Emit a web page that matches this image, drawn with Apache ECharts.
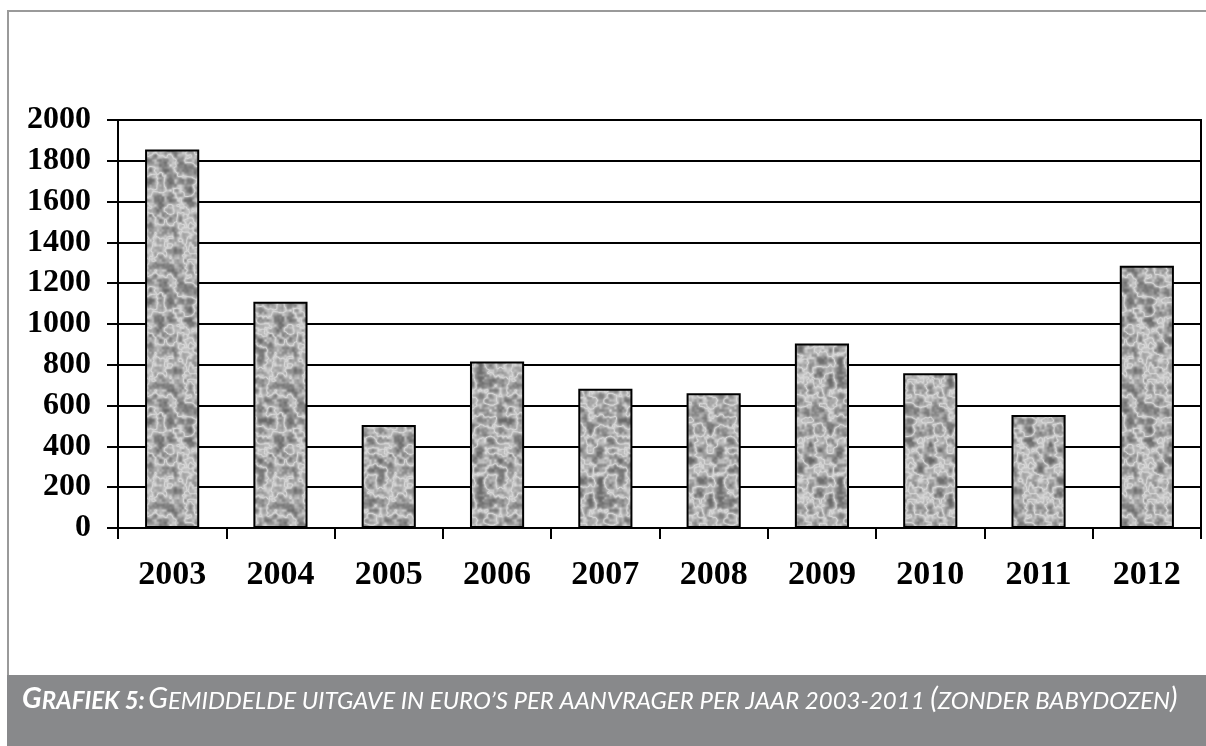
<!DOCTYPE html>
<html>
<head>
<meta charset="utf-8">
<style>
html,body{margin:0;padding:0;background:#fff;}
#chart{width:1206px;height:746px;}
</style>
<script src="https://cdn.jsdelivr.net/npm/echarts@6/dist/echarts.min.js"></script>
</head>
<body>
<div id="chart"></div>
<script>
// ---- data ----
var years = ['2003','2004','2005','2006','2007','2008','2009','2010','2011','2012'];
var values = [1856, 1109, 505, 816, 682, 660, 904, 759, 554, 1286];
var yTicks = [0, 200, 400, 600, 800, 1000, 1200, 1400, 1600, 1800, 2000];

// ---- granite-like texture (deterministic hash noise) ----
function makeTexture() {
  var S = 120, c = document.createElement('canvas');
  c.width = S; c.height = S;
  var ctx = c.getContext('2d');
  var img = ctx.createImageData(S, S);
  function h(x, y) {
    var s = Math.sin(x * 12.9898 + y * 78.233) * 43758.5453;
    return s - Math.floor(s);
  }
  function vn(x, y, f) {
    var P = S / f;
    var gx = x / f, gy = y / f;
    var x0 = Math.floor(gx), y0 = Math.floor(gy);
    var tx = gx - x0, ty = gy - y0;
    tx = tx * tx * (3 - 2 * tx); ty = ty * ty * (3 - 2 * ty);
    var a = h(x0 % P, y0 % P), b = h((x0 + 1) % P, y0 % P);
    var cc = h(x0 % P, (y0 + 1) % P), d = h((x0 + 1) % P, (y0 + 1) % P);
    return (a * (1 - tx) + b * tx) * (1 - ty) + (cc * (1 - tx) + d * tx) * ty;
  }
  for (var y = 0; y < S; y++) {
    for (var x = 0; x < S; x++) {
      var v = 0.55 * vn(x, y, 10) + 0.3 * vn(x, y, 5) + 0.15 * vn(x, y, 2.5);
      var r = 1 - Math.abs(v - 0.5) * 2;     // ridges -> light veins
      var g = Math.round(100 + r * r * 115);
      if (g > 225) g = 225;
      var i = (y * S + x) * 4;
      img.data[i] = g; img.data[i + 1] = g; img.data[i + 2] = g; img.data[i + 3] = 255;
    }
  }
  ctx.putImageData(img, 0, 0);
  return c;
}

var chart = echarts.init(document.getElementById('chart'), null, {renderer: 'canvas'});
var serif = '"Liberation Serif", "Times New Roman", serif';
var capFont = 'Lato, "Open Sans", sans-serif';

chart.setOption({
  animation: false,
  backgroundColor: '#ffffff',
  grid: {
    left: 118, right: 5, top: 120, bottom: 218,
    show: true, borderColor: '#000', borderWidth: 2, backgroundColor: 'transparent'
  },
  xAxis: {
    type: 'category',
    data: years,
    axisLine: {lineStyle: {color: '#000', width: 2}},
    axisTick: {show: true, length: 11, alignWithLabel: false, lineStyle: {color: '#000', width: 2}},
    axisLabel: {color: '#000', fontFamily: serif, fontWeight: 'bold', fontSize: 34, margin: 30}
  },
  yAxis: {
    type: 'value',
    min: yTicks[0], max: yTicks[yTicks.length - 1], interval: yTicks[1] - yTicks[0],
    axisLine: {show: true, lineStyle: {color: '#000', width: 2}},
    axisTick: {show: true, length: 11, lineStyle: {color: '#000', width: 2}},
    splitLine: {show: true, lineStyle: {color: '#000', width: 2}},
    axisLabel: {color: '#000', fontFamily: serif, fontWeight: 'bold', fontSize: 32, margin: 27,
                formatter: function (v) { return String(v); }}
  },
  series: [{
    type: 'bar',
    data: values,
    barWidth: '50%',
    itemStyle: {
      color: {image: makeTexture(), repeat: 'repeat'},
      borderColor: '#000',
      borderWidth: 2
    }
  }],
  graphic: [
    {type: 'rect', z: -1, shape: {x: 8, y: 11, width: 1210, height: 670},
     style: {fill: 'none', stroke: '#9a9a9a', lineWidth: 2}},
    {type: 'rect', z: 10, shape: {x: 7, y: 675, width: 1199, height: 71},
     style: {fill: '#88898b'}},
    {type: 'text', z: 11, left: 22, top: 684,
     style: {
       text: '{B|G}{b|RAFIEK 5:} {C|G}{c|EMIDDELDE UITGAVE IN EURO’S PER AANVRAGER PER JAAR 2003-2011 }{C|(}{c|ZONDER BABYDOZEN}{C|)}',
       rich: {
         B: {fontFamily: capFont, fontStyle: 'italic', fontWeight: 'bold', fontSize: 29, fill: '#fff', verticalAlign: 'bottom'},
         b: {fontFamily: capFont, fontStyle: 'italic', fontWeight: 'bold', fontSize: 24, fill: '#fff', verticalAlign: 'bottom'},
         C: {fontFamily: capFont, fontStyle: 'italic', fontSize: 29, fill: '#fff', verticalAlign: 'bottom'},
         c: {fontFamily: capFont, fontStyle: 'italic', fontSize: 24, fill: '#fff', verticalAlign: 'bottom'}
       }
     }}
  ]
});
</script>
</body>
</html>
